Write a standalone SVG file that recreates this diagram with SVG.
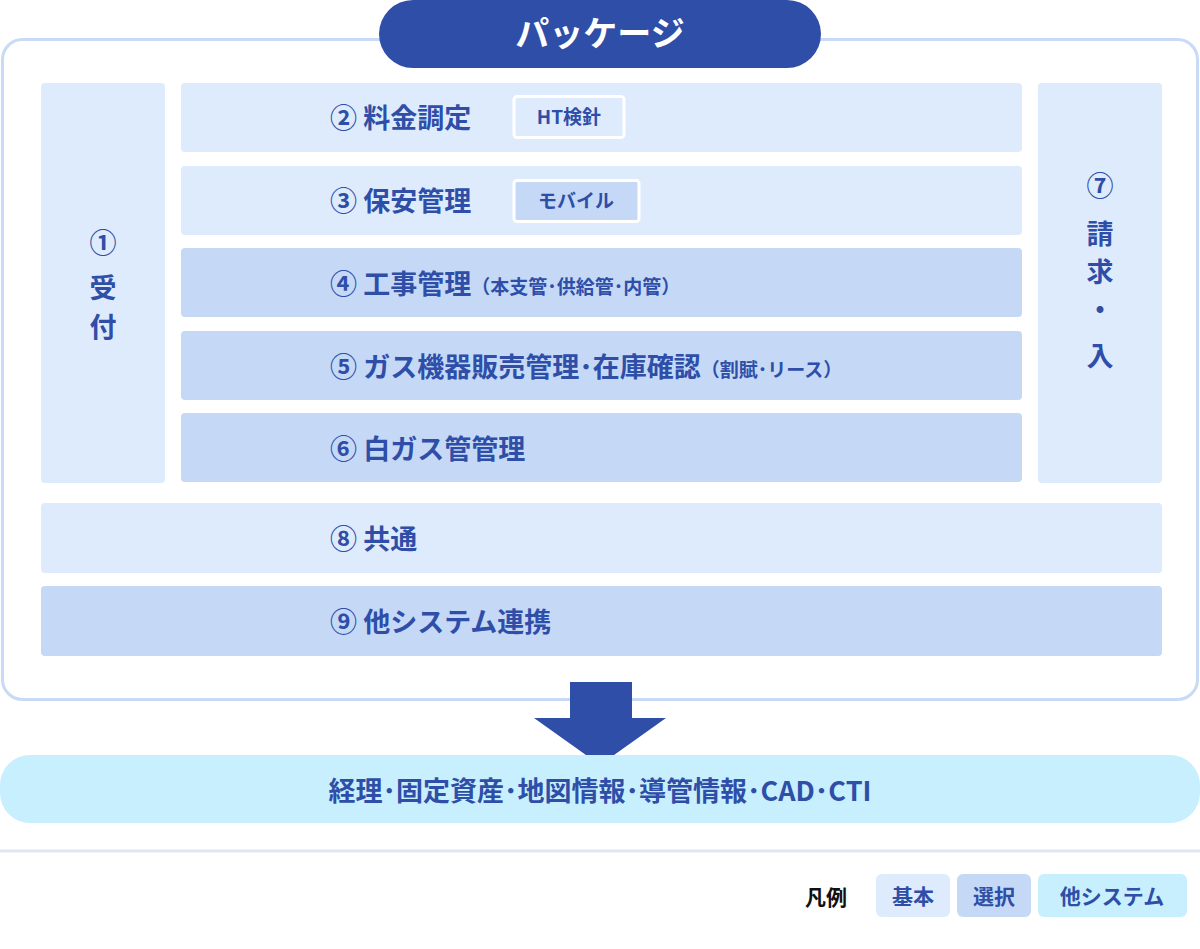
<svg xmlns="http://www.w3.org/2000/svg" width="1200" height="949" viewBox="0 0 1200 949">
<style>
text{font-family:"Noto Sans CJK JP","Noto Sans",sans-serif;font-weight:700;fill:#2e4ea8}
.b{fill:#deebfc}.s{fill:#c5d9f7}.o{fill:#c8effd}
.t{font-size:27px}
.sm{font-size:19px}
</style>
<rect x="0" y="0" width="1200" height="949" fill="#fff"/>
<rect x="2.5" y="39.5" width="1195" height="660" rx="20" fill="#fff" stroke="#c8daf5" stroke-width="3"/>
<g id="title"><rect x="379" y="0" width="442" height="68" rx="34" fill="#2e4ea8"/><text x="600" y="46" text-anchor="middle" font-size="34" style="fill:#fff">パッケージ</text></g>
<g id="n1"><rect class="b" x="41" y="83" width="124" height="400" rx="4"/><text class="t" x="103" y="253" text-anchor="middle">①</text><text class="t" x="103" y="298" text-anchor="middle">受</text><text class="t" x="103" y="337" text-anchor="middle">付</text></g>
<g id="n2"><rect class="b" x="181" y="83" width="841" height="69" rx="4"/><text class="t" x="330" y="128">② 料金調定</text><rect x="514" y="96.5" width="110" height="41" rx="3" class="b" stroke="#fff" stroke-width="3"/><text class="sm" x="569" y="124" text-anchor="middle">HT検針</text></g>
<g id="n3"><rect class="b" x="181" y="166" width="841" height="69" rx="4"/><text class="t" x="330" y="211">③ 保安管理</text><rect x="514" y="180.5" width="125" height="41" rx="3" class="s" stroke="#fff" stroke-width="3"/><text class="sm" x="576" y="208" text-anchor="middle">モバイル</text></g>
<g id="n4"><rect class="s" x="181" y="248" width="841" height="69" rx="4"/><text class="t" x="330" y="294">④ 工事管理<tspan class="sm" font-size="19">（本支管･供給管･内管）</tspan></text></g>
<g id="n5"><rect class="s" x="181" y="331" width="841" height="69" rx="4"/><text class="t" x="330" y="377">⑤ ガス機器販売管理･在庫確認<tspan font-size="19">（割賦･リース）</tspan></text></g>
<g id="n6"><rect class="s" x="181" y="413" width="841" height="69" rx="4"/><text class="t" x="330" y="459">⑥ 白ガス管管理</text></g>
<g id="n7"><rect class="b" x="1038" y="83" width="124" height="400" rx="4"/><text class="t" x="1100" y="196" text-anchor="middle">⑦</text><text class="t" x="1100" y="244" text-anchor="middle">請</text><text class="t" x="1100" y="282" text-anchor="middle">求</text><text class="t" x="1100" y="320" text-anchor="middle">・</text><text class="t" x="1100" y="366" text-anchor="middle">入</text><text class="t" x="1100" y="370" text-anchor="middle" opacity="0"></text></g>
<g id="n8"><rect class="b" x="41" y="503" width="1121" height="70" rx="4"/><text class="t" x="330" y="549">⑧ 共通</text></g>
<g id="n9"><rect class="s" x="41" y="586" width="1121" height="70" rx="4"/><text class="t" x="330" y="632">⑨ 他システム連携</text></g>
<g id="connectors"><polygon points="570,682 632,682 632,718 666,718 600,765 534,718 570,718" fill="#2e4ea8"/></g>
<g id="n10"><rect class="o" x="0" y="755" width="1200" height="68" rx="30"/><text class="t" x="600" y="801" text-anchor="middle">経理･固定資産･地図情報･導管情報･CAD･CTI</text></g>
<line x1="0" y1="851" x2="1200" y2="851" stroke="#dfe7f3" stroke-width="3"/>
<g id="legend">
<text x="826" y="905" font-size="21" text-anchor="middle" style="fill:#111">凡例</text>
<rect class="b" x="876" y="874" width="74" height="43" rx="6"/><text x="913" y="904" font-size="21" text-anchor="middle">基本</text>
<rect class="s" x="957" y="874" width="74" height="43" rx="6"/><text x="994" y="904" font-size="21" text-anchor="middle">選択</text>
<rect class="o" x="1038" y="874" width="149" height="43" rx="6"/><text x="1112" y="904" font-size="21" text-anchor="middle">他システム</text>
</g>
</svg>
